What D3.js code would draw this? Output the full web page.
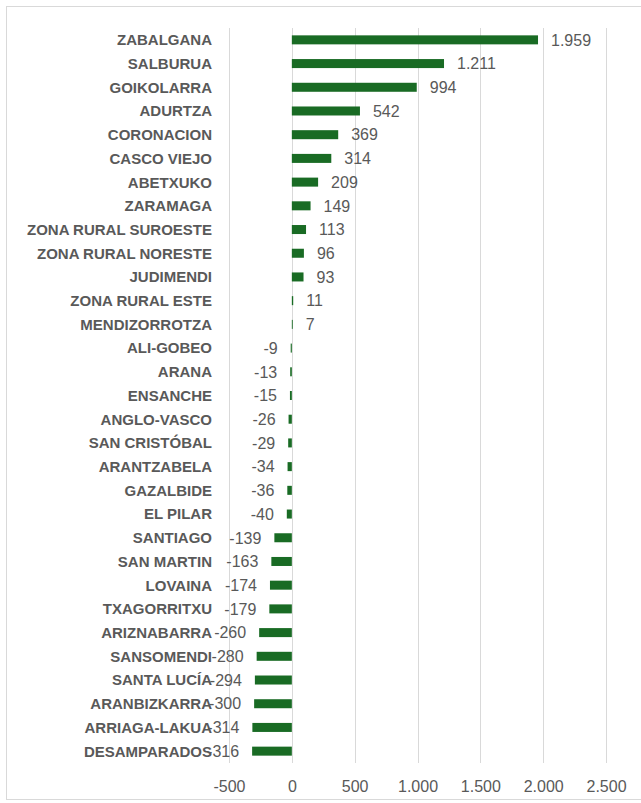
<!DOCTYPE html>
<html>
<head>
<meta charset="utf-8">
<script src="https://cdn.jsdelivr.net/npm/d3@7"></script>
<style>
  body { margin: 0; background: #fff; }
  svg { display: block; }
</style>
</head>
<body>
<div id="chart"></div>
<script>
const barrios = ["ZABALGANA", "SALBURUA", "GOIKOLARRA", "ADURTZA", "CORONACION", "CASCO VIEJO",
  "ABETXUKO", "ZARAMAGA", "ZONA RURAL SUROESTE", "ZONA RURAL NORESTE", "JUDIMENDI",
  "ZONA RURAL ESTE", "MENDIZORROTZA", "ALI-GOBEO", "ARANA", "ENSANCHE", "ANGLO-VASCO",
  "SAN CRISTÓBAL", "ARANTZABELA", "GAZALBIDE", "EL PILAR", "SANTIAGO", "SAN MARTIN",
  "LOVAINA", "TXAGORRITXU", "ARIZNABARRA", "SANSOMENDI", "SANTA LUCÍA", "ARANBIZKARRA",
  "ARRIAGA-LAKUA", "DESAMPARADOS"];
const valores = [1959, 1211, 994, 542, 369, 314, 209, 149, 113, 96, 93, 11, 7, -9, -13, -15, -26,
  -29, -34, -36, -40, -139, -163, -174, -179, -260, -280, -294, -300, -314, -316];
const ticks = [-500, 0, 500, 1000, 1500, 2000, 2500];

const width = 641, height = 803;
const data = barrios.map((b, i) => ({name: b, value: valores[i]}));

// formato español: punto como separador de miles, guion normal
const fmt = d3.formatLocale({decimal: ",", thousands: ".", grouping: [3], currency: ["", "€"], minus: "-"}).format(",d");

const svg = d3.select("#chart").append("svg")
    .attr("width", width)
    .attr("height", height)
    .style("font-family", "'Liberation Sans', Arial, sans-serif");

svg.append("rect")
    .attr("x", 6.5).attr("y", 6.5)
    .attr("width", width).attr("height", 793)
    .attr("fill", "#fff")
    .attr("stroke", "#d9d9d9");

const x = d3.scaleLinear().domain([-500, 2500]).range([229, 606]);
const y = d3.scaleBand().domain(barrios).range([28, 763]).paddingInner(0.62).paddingOuter(0.31);

// gridlines
svg.append("g")
  .selectAll("line")
  .data(ticks)
  .join("line")
    .attr("x1", d => Math.round(x(d)) + 0.5)
    .attr("x2", d => Math.round(x(d)) + 0.5)
    .attr("y1", 28)
    .attr("y2", 763)
    .attr("stroke", "#d9d9d9")
    .attr("stroke-width", 1);

// eje x
const xAxis = svg.append("g")
    .attr("transform", "translate(0,763)")
    .call(d3.axisBottom(x).tickValues(ticks).tickFormat(fmt).tickSize(0).tickPadding(18));
xAxis.select(".domain").remove();
xAxis.selectAll("text")
    .attr("fill", "#595959")
    .style("font-size", "16px");

// barras
svg.append("g")
  .selectAll("rect")
  .data(data)
  .join("rect")
    .attr("x", d => x(Math.min(0, d.value)))
    .attr("y", d => y(d.name))
    .attr("width", d => Math.abs(x(d.value) - x(0)))
    .attr("height", y.bandwidth())
    .attr("fill", "#196b24");

// etiquetas de valor
svg.append("g")
  .selectAll("text")
  .data(data)
  .join("text")
    .attr("x", d => d.value >= 0 ? x(d.value) + 13 : x(d.value) - 13)
    .attr("y", d => y(d.name) + y.bandwidth() / 2)
    .attr("dy", "0.36em")
    .attr("text-anchor", d => d.value >= 0 ? "start" : "end")
    .attr("fill", "#595959")
    .style("font-size", "16px")
    .text(d => fmt(d.value));

// categorías
svg.append("g")
  .selectAll("text")
  .data(data)
  .join("text")
    .attr("x", 212)
    .attr("y", d => y(d.name) + y.bandwidth() / 2)
    .attr("dy", "0.36em")
    .attr("text-anchor", "end")
    .attr("fill", "#595959")
    .style("font-size", "15px")
    .style("font-weight", "bold")
    .text(d => d.name);
</script>
</body>
</html>
